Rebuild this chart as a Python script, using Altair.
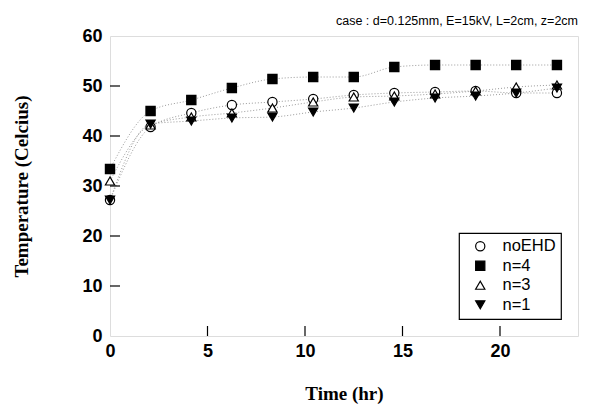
import altair as alt
import pandas as pd

time_hr = [0, 2.08, 4.17, 6.25, 8.33, 10.42, 12.5, 14.58, 16.67, 18.75, 20.83, 22.92]
noEHD = [27.2, 41.8, 44.6, 46.2, 46.8, 47.4, 48.2, 48.6, 48.8, 49.0, 48.6, 48.6]
n4 = [33.4, 45.0, 47.2, 49.6, 51.4, 51.8, 51.8, 53.8, 54.2, 54.2, 54.2, 54.2]
n3 = [31.0, 42.2, 43.8, 44.6, 45.6, 46.8, 47.8, 48.0, 48.4, 49.0, 49.8, 50.2]
n1 = [27.2, 42.4, 43.0, 43.6, 43.8, 44.8, 45.6, 46.8, 47.6, 48.0, 48.6, 49.6]

series_names = ["noEHD", "n=4", "n=3", "n=1"]
series_vals = [noEHD, n4, n3, n1]
shapes = ["circle", "square", "triangle-up", "triangle-down"]
fills = ["white", "black", "white", "black"]
strokes = ["black", "black", "black", "black"]

x_ticks = [5, 10, 15, 20]
y_ticks = [10, 20, 30, 40, 50]

rows = []
for name, vals in zip(series_names, series_vals):
    for t, v in zip(time_hr, vals):
        rows.append({"t": t, "temp": v, "series": name})
df = pd.DataFrame(rows)

xs = alt.Scale(domain=[0, 24], nice=False, zero=False)
ys = alt.Scale(domain=[0, 60], nice=False)

lab_font = "Liberation Sans"
ttl_font = "Liberation Serif"

xaxis = alt.Axis(values=[0, 5, 10, 15, 20], title="Time (hr)", labelFont=lab_font,
                 labelFontSize=18, labelFontWeight="bold", labelColor="black",
                 labelFlush=False,
                 tickSize=0, domain=False, grid=False, labelPadding=6,
                 titleFont=ttl_font, titleFontSize=19, titleFontWeight="bold",
                 titleColor="black", titlePadding=24)
yaxis = alt.Axis(values=[0, 10, 20, 30, 40, 50, 60], title="Temperature (Celcius)",
                 labelFont=lab_font, labelFontSize=18, labelFontWeight="bold",
                 labelColor="black", labelFlush=False, tickSize=0, domain=False, grid=False,
                 labelPadding=8, titleFont=ttl_font, titleFontSize=19,
                 titleFontWeight="bold", titleColor="black", titlePadding=50)

base = alt.Chart(df)

lines = base.mark_line(interpolate="monotone", strokeDash=[1, 2], strokeWidth=1,
                       color="#9a9a9a").encode(
    x=alt.X("t:Q", scale=xs, axis=xaxis),
    y=alt.Y("temp:Q", scale=ys, axis=yaxis),
    detail="series:N",
)

leg = alt.Legend(title=None, orient="none", legendX=349, legendY=197,
                 labelExpr="datum.label + '  '")

points = base.mark_point(size=85, strokeWidth=1.2, opacity=1, filled=False).encode(
    x=alt.X("t:Q", scale=xs, axis=xaxis),
    y=alt.Y("temp:Q", scale=ys, axis=yaxis),
    shape=alt.Shape("series:N", scale=alt.Scale(domain=series_names, range=shapes),
                    legend=leg),
    fill=alt.Fill("series:N", scale=alt.Scale(domain=series_names, range=fills),
                  legend=leg),
    stroke=alt.Stroke("series:N", scale=alt.Scale(domain=series_names, range=strokes),
                      legend=leg),
)

ytick_df = pd.DataFrame({"t": [0] * len(y_ticks), "temp": y_ticks})
xtick_df = pd.DataFrame({"t": x_ticks, "temp": [0] * len(x_ticks)})

yticks = alt.Chart(ytick_df).mark_rule(color="black", strokeWidth=1.2).encode(
    y=alt.Y("temp:Q", scale=ys, axis=yaxis), x=alt.value(0), x2=alt.value(10))
xticks = alt.Chart(xtick_df).mark_rule(color="black", strokeWidth=1.2).encode(
    x=alt.X("t:Q", scale=xs, axis=xaxis), y=alt.value(300), y2=alt.value(290))

chart = alt.layer(lines, yticks, xticks, points).properties(
    width=468, height=300,
    padding={"left": 102, "top": 28, "right": 5, "bottom": 70},
    autosize=alt.AutoSizeParams(type="none"),
    title=alt.TitleParams("case : d=0.125mm, E=15kV, L=2cm, z=2cm", anchor="end",
                          font=lab_font, fontSize=12.5, fontWeight="normal",
                          color="black", offset=0),
).configure_view(stroke="black", strokeWidth=1.5).configure(background="white"
).configure_legend(strokeColor="black", fillColor="white", padding=5,
                   labelFont=lab_font, labelFontSize=16.5, labelColor="black",
                   symbolSize=85, symbolStrokeWidth=1.2,
                   rowPadding=2.5, labelOffset=14, symbolOffset=8, cornerRadius=0,
                   strokeWidth=1.2)

chart.save("out.html", embed_options={"renderer": "svg", "actions": False})
